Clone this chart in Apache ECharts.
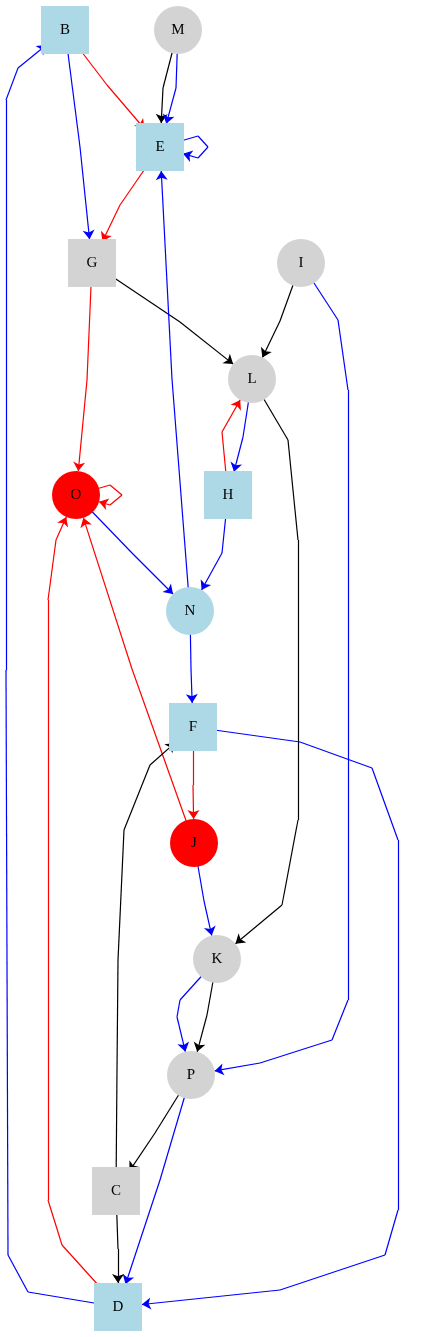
<!DOCTYPE html>
<html><head><meta charset="utf-8">
<script src="https://cdn.jsdelivr.net/npm/echarts@6/dist/echarts.min.js"></script>
<style>html,body{margin:0;padding:0;background:#fff}#chart{width:437px;height:1337px}</style>
</head><body><div id="chart"></div>
<script>
var nodeNames = ['B','M','E','G','I','L','O','H','N','F','J','K','P','C','D'];
var nodeX = [65,178,160,92,301,252,76,228,190,193,194,217,191,116,118];
var nodeY = [30,30,147,263,263,379,495,495,611,727,843,959,1075,1191,1307];
var nodeShape = ['rect','circle','rect','rect','circle','circle','circle','rect','circle','rect','circle','circle','circle','rect','rect'];
var nodeColor = ['#add8e6','#d3d3d3','#add8e6','#d3d3d3','#d3d3d3','#d3d3d3','#ff0000','#add8e6','#add8e6','#add8e6','#ff0000','#d3d3d3','#d3d3d3','#d3d3d3','#add8e6'];

// edges: source, target, label, colour
var edgeSrc =   ['B','M','M','E','B','E','G','I','G','L','H','O','O','H','N','N','F','J','J','L','I','F','K','K','P','P','C','C','D','D'];
var edgeDst =   ['E','E','E','E','G','G','L','L','O','H','L','O','N','N','E','F','J','O','K','K','P','D','P','P','C','D','F','D','B','O'];
var edgeLabel = ['63','0','-51','-74','-77','10','0','0','∞','-20','39','∞','-∞','-112','-47','-75','∞','∞','-∞','0','-250','-107','-238','0','0','-37','0','0','-61','∞'];
var edgeColor = ['red','black','blue','blue','blue','red','black','black','red','blue','red','red','blue','blue','blue','blue','red','red','blue','black','blue','blue','blue','black','black','blue','black','black','blue','red'];
// bend points of each edge's route, and which one carries the label
var edgeRoute = [
  [[107,85]], [[163,88]], [[176,88]], [[198,136],[208,147],[198,158]],
  [[80,147]], [[120,205]], [[180,322]], [[280,321]], [[87,380]],
  [[243,437]], [[222,432]], [[110,485],[122,495],[110,505]],
  [[132,553]], [[222,553]], [[172,379]], [[191,669]], [[193,785]],
  [[132,669]], [[204,901]],
  [[288,440],[298,540],[298,670],[298,820],[282,905]],
  [[338,320],[348,390],[348,670],[348,1000],[332,1040],[260,1063]],
  [[300,742],[372,768],[398,840],[398,1020],[398,1210],[385,1255],[280,1290]],
  [[180,1000],[177,1017]], [[207,1015]], [[155,1133]], [[160,1180]],
  [[117,1070],[118,960],[124,830],[150,765]], [[118,1249]],
  [[28,1292],[8,1255],[6,670],[6,100],[18,68]],
  [[62,1245],[48,1200],[48,900],[48,600],[56,540]]
];
var edgeLabelAt = [0,0,0,1,0,0,0,0,0,0,0,1,0,0,0,0,0,0,0,2,2,3,1,0,0,0,1,0,2,2];
var edgeLabelDx = [14,1,1,1,4,3,3,3,3,1,-4,1,5,4,2,3,3,2,3,2,2,2,1,3,3,6,1,3,2,6];

var font = 'Liberation Serif, Times New Roman, serif';
var nodes = nodeNames.map(function (n, i) {
  return {
    name: n, value: [nodeX[i], nodeY[i]], symbol: nodeShape[i],
    symbolSize: 48, itemStyle: { color: nodeColor[i] }
  };
});
var links = [];
edgeSrc.forEach(function (s, i) {
  var chain = [s];
  edgeRoute[i].forEach(function (p, j) {
    var nm = 'w' + i + '_' + j;
    var left = edgeLabelDx[i] < 0;
    nodes.push({
      name: nm, value: p, symbol: 'circle', symbolSize: 1,
      itemStyle: { opacity: 0 },
      label: j === edgeLabelAt[i] ? {
        show: true, position: left ? 'left' : 'right', distance: Math.abs(edgeLabelDx[i]),
        formatter: edgeLabel[i], fontSize: 15
      } : { show: false }
    });
    chain.push(nm);
  });
  chain.push(edgeDst[i]);
  for (var k = 0; k < chain.length - 1; k++) {
    links.push({
      source: chain[k], target: chain[k + 1],
      symbol: ['none', k === chain.length - 2 ? 'arrow' : 'none'],
      lineStyle: { color: edgeColor[i] }
    });
  }
});

var chart = echarts.init(document.getElementById('chart'));
chart.setOption({
  animation: false,
  grid: { left: 0, right: 0, top: 0, bottom: 0 },
  xAxis: { type: 'value', min: 0, max: 437, show: false },
  yAxis: { type: 'value', min: 0, max: 1337, inverse: true, show: false },
  series: [{
    type: 'graph',
    coordinateSystem: 'cartesian2d',
    data: nodes,
    links: links,
    edgeSymbolSize: [0, 9],
    label: { show: true, position: 'inside', color: '#000', fontFamily: font, fontSize: 15,
      formatter: function (p) { return p.name; } },
    lineStyle: { width: 1.2, opacity: 1, curveness: 0 },
    emphasis: { disabled: true }
  }]
});
</script></body></html>
